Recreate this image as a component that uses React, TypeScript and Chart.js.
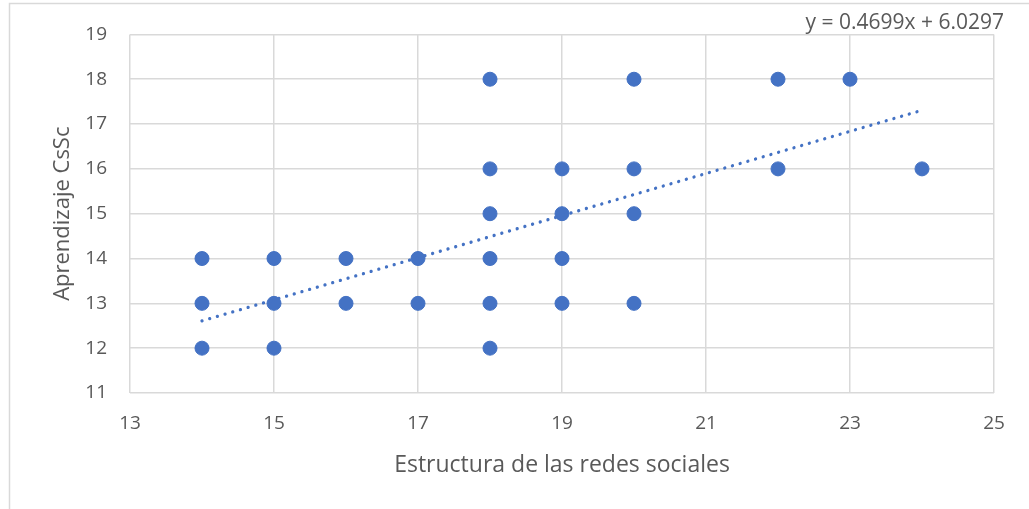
import React, { useEffect, useRef } from "react";
import { Chart, registerables } from "chart.js";

Chart.register(...registerables);

const xValues = [14, 14, 14, 15, 15, 15, 16, 16, 17, 17, 18, 18, 18, 18, 18, 18, 19, 19, 19, 19, 20, 20, 20, 20, 22, 22, 23, 24];
const yValues = [14, 13, 12, 14, 13, 12, 14, 13, 14, 13, 18, 16, 15, 14, 13, 12, 16, 15, 14, 13, 18, 16, 15, 13, 18, 16, 18, 16];
const trendSlope = 0.4699;
const trendIntercept = 6.0297;
const trendRange = [14, 24];
const equationLabel = "y = 0.4699x + 6.0297";
const xTitle = "Estructura de las redes sociales";
const yTitle = "Aprendizaje CsSc";

const FONT = "'Open Sans', 'Liberation Sans', Arial, sans-serif";
const TEXT = "#595959";
const GRID = "#d9d9d9";
const BLUE = "#4472C4";

export default function App() {
  const ref = useRef<HTMLCanvasElement>(null);
  useEffect(() => {
    const canvas = ref.current!;
    const points = xValues.map((x, i) => ({ x, y: yValues[i] }));
    const trend = trendRange.map((x) => ({ x, y: trendSlope * x + trendIntercept }));

    const frame = {
      id: "frame",
      beforeDraw(chart: any) {
        const c = chart.ctx;
        c.save();
        c.fillStyle = "#ffffff";
        c.fillRect(0, 0, chart.width, chart.height);
        c.strokeStyle = GRID;
        c.lineWidth = 1.5;
        c.beginPath();
        c.moveTo(9.5, chart.height + 2);
        c.lineTo(9.5, 3.5);
        c.lineTo(chart.width + 2, 3.5);
        c.stroke();
        c.restore();
      },
      afterDraw(chart: any) {
        const c = chart.ctx;
        c.save();
        c.font = `21px ${FONT}`;
        c.fillStyle = TEXT;
        c.textAlign = "right";
        c.textBaseline = "alphabetic";
        c.fillText(equationLabel, 1004, 29);
        c.restore();
      },
    };

    const chart = new Chart(canvas, {
      type: "scatter",
      data: {
        datasets: [
          {
            data: points,
            backgroundColor: BLUE,
            borderColor: BLUE,
            pointRadius: 7,
            pointBorderWidth: 1,
            order: 2,
          },
          {
            type: "line",
            data: trend,
            borderColor: BLUE,
            borderWidth: 3.3,
            borderDash: [0.01, 8],
            borderCapStyle: "round",
            pointRadius: 0,
            fill: false,
            showLine: true,
            order: 1,
          } as any,
        ],
      },
      options: {
        animation: false,
        responsive: false,
        layout: { padding: { top: 29, right: 35, left: 0, bottom: 0 } },
        plugins: { legend: { display: false }, tooltip: { enabled: false } },
        scales: {
          x: {
            type: "linear",
            min: 13,
            max: 25,
            ticks: { stepSize: 2, color: TEXT, font: { family: FONT, size: 19 }, padding: 19 },
            grid: { color: GRID, lineWidth: 1.5, drawTicks: false },
            border: { display: false },
            title: {
              display: true,
              text: xTitle,
              color: TEXT,
              font: { family: FONT, size: 23 },
              padding: { bottom: 30, top: 0 },
            },
            afterFit(scale: any) {
              scale.height = 116;
            },
          },
          y: {
            type: "linear",
            min: 11,
            max: 19,
            ticks: { stepSize: 1, color: TEXT, font: { family: FONT, size: 19 }, padding: 23 },
            grid: { color: GRID, lineWidth: 1.5, drawTicks: false },
            border: { display: false },
            title: {
              display: true,
              text: yTitle,
              color: TEXT,
              font: { family: FONT, size: 22 },
              padding: { top: 50, bottom: 0 },
            },
            afterFit(scale: any) {
              scale.width = 130;
            },
          },
        },
      },
      plugins: [frame],
    });
    return () => chart.destroy();
  }, []);

  return (
    <div style={{ position: "absolute", left: 0, top: 0, width: 1029, height: 509 }}>
      <canvas ref={ref} width={1029} height={509} style={{ width: 1029, height: 509, display: "block" }} />
    </div>
  );
}
